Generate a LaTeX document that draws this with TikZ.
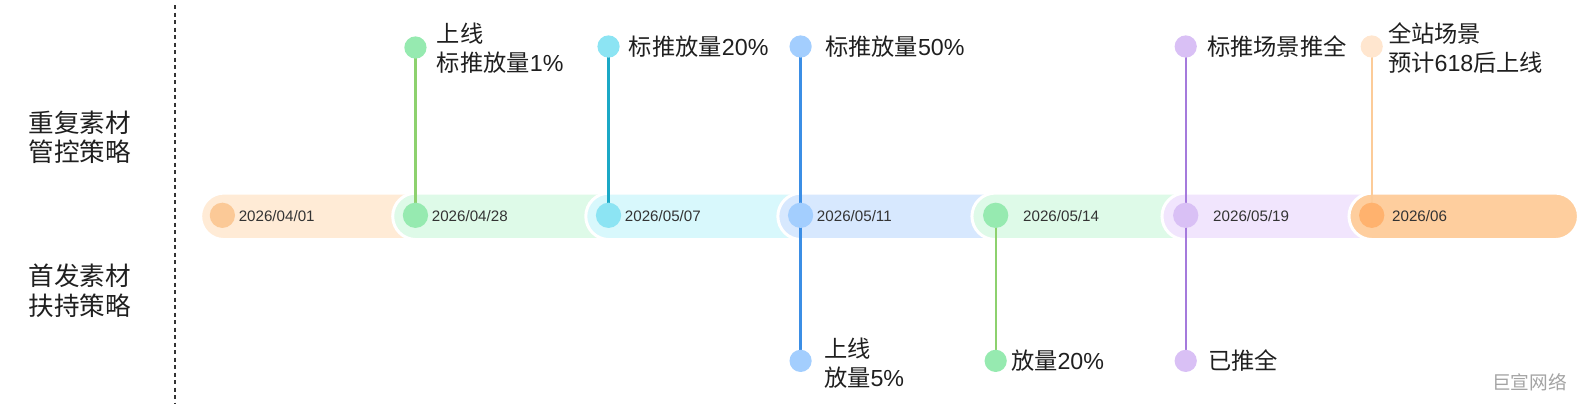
\documentclass[tikz,border=0pt]{standalone}
\usepackage{fontspec}
\setmainfont{Liberation Sans}
\newfontfamily\cjk{Noto Sans CJK SC}
\usetikzlibrary{shapes.misc}
\definecolor{segA}{HTML}{FFEBD6}
\definecolor{segB}{HTML}{DEFAE8}
\definecolor{segC}{HTML}{D8F8FC}
\definecolor{segD}{HTML}{D7E8FE}
\definecolor{segE}{HTML}{F1E5FD}
\definecolor{segF}{HTML}{FECE9E}
\definecolor{dotA}{HTML}{FBC997}
\definecolor{dotB}{HTML}{96EAB0}
\definecolor{dotC}{HTML}{8CE4F3}
\definecolor{dotD}{HTML}{A3CEFE}
\definecolor{dotE}{HTML}{D9C0F5}
\definecolor{dotF}{HTML}{FFB26E}
\definecolor{dotG}{HTML}{FFE6CF}
\definecolor{lnGreen}{HTML}{8DD16E}
\definecolor{lnCyan}{HTML}{1BA8C6}
\definecolor{lnBlue}{HTML}{3B8EE5}
\definecolor{lnPurple}{HTML}{A57ADC}
\definecolor{lnOrange}{HTML}{FCCB98}
\definecolor{ink}{HTML}{1F1F1F}
\definecolor{ink2}{HTML}{333333}
\definecolor{wmark}{HTML}{A3A3A3}
\pgfdeclarelayer{bg}
\pgfdeclarelayer{mid}
\pgfsetlayers{bg,mid,main}
\begin{document}
\begin{tikzpicture}[x=1pt,y=-1pt, scale=1.0108, every node/.append style={transform shape},
  seg/.style={rounded rectangle, rounded rectangle right arc=none, minimum height=46pt, inner sep=0pt, draw=white, line width=3pt, anchor=west},
  bardot/.style={circle, minimum size=25pt, inner sep=0pt},
  tipdot/.style={circle, minimum size=22pt, inner sep=0pt},
  stem/.style={line width=2.7pt},
  lbl/.style={anchor=west, inner sep=0pt, align=left, font=\fontsize{23}{29}\selectfont, text=ink},
  side/.style={anchor=west, inner sep=0pt, align=left, font=\fontsize{25.3}{29}\selectfont, text=ink},
  datetxt/.style={anchor=west, inner sep=0pt, font=\fontsize{15}{18}\selectfont, text=ink2},
  divider/.style={line width=1.5pt, draw=ink2, dash pattern=on 4pt off 3.5pt}]
\useasboundingbox (0,0) rectangle (1568,401.66);

% segments
\begin{pgfonlayer}{bg}
\node[seg, fill=segA, minimum width=204pt] (s1) at (197,214) {};
\node[seg, fill=segB, minimum width=205pt] (s2) at (387,214) {};
\node[seg, fill=segC, minimum width=204pt] (s3) at (578,214) {};
\node[seg, fill=segD, minimum width=206pt] (s4) at (768,214) {};
\node[seg, fill=segB, minimum width=202pt] (s5) at (960,214) {};
\node[seg, fill=segE, minimum width=199pt] (s6) at (1148,214) {};
\node[seg, fill=segF, minimum width=227pt, rounded rectangle right arc=convex] (s7) at (1333,214) {};
\end{pgfonlayer}

% bar dots
\node[bardot, fill=dotA] (d1) at (220,213) {};
\node[bardot, fill=dotB] (d2) at (411,213) {};
\node[bardot, fill=dotC] (d3) at (602,213) {};
\node[bardot, fill=dotD] (d4) at (792,213) {};
\node[bardot, fill=dotB] (d5) at (985,213) {};
\node[bardot, fill=dotE] (d6) at (1173,213) {};
\node[bardot, fill=dotF] (d7) at (1357,213) {};

% top and bottom dots
\node[tipdot, fill=dotB] (t1) at (411,47) {};
\node[tipdot, fill=dotC] (t2) at (602,46) {};
\node[tipdot, fill=dotD] (t3) at (792,46) {};
\node[tipdot, fill=dotE] (t4) at (1173,46) {};
\node[tipdot, fill=dotG] (t5) at (1357,46) {};
\node[tipdot, fill=dotD] (u1) at (792,357) {};
\node[tipdot, fill=dotB] (u2) at (985,357) {};
\node[tipdot, fill=dotE] (u3) at (1173,357) {};

% stems
\begin{pgfonlayer}{mid}
\draw[stem, lnGreen] (t1.center) -- (d2.center);
\draw[stem, lnCyan] (t2.center) -- (d3.center);
\draw[stem, lnBlue] (t3.center) -- (u1.center);
\draw[stem, lnGreen] (d5.center) -- (u2.center);
\draw[stem, lnPurple] (t4.center) -- (u3.center);
\draw[stem, lnOrange] (t5.center) -- (d7.center);
\end{pgfonlayer}

% dates
\node[datetxt] (a1) at (236,214) {2026/04/01};
\node[datetxt] (a2) at (427,214) {2026/04/28};
\node[datetxt] (a3) at (618,214) {2026/05/07};
\node[datetxt] (a4) at (808,214) {2026/05/11};
\node[datetxt] (a5) at (1012,214) {2026/05/14};
\node[datetxt] (a6) at (1200,214) {2026/05/19};
\node[datetxt] (a7) at (1377,214) {2026/06};

% top labels
\node[lbl] (l1) at (432,47.5) {{\cjk 上线}\\{\cjk 标推放量}1\%};
\node[lbl] (l2) at (622,46) {{\cjk 标推放量}20\%};
\node[lbl] (l3) at (816,46) {{\cjk 标推放量}50\%};
\node[lbl] (l4) at (1194,46) {{\cjk 标推场景推全}};
\node[lbl] (l5) at (1373,47.5) {{\cjk 全站场景}\\{\cjk 预计}618{\cjk 后上线}};

% bottom labels
\node[lbl] (m1) at (815,359.5) {{\cjk 上线}\\{\cjk 放量}5\%};
\node[lbl] (m2) at (1000,357) {{\cjk 放量}20\%};
\node[lbl] (m3) at (1195,357) {{\cjk 已推全}};

% side labels
\node[side] (g1) at (28,135.5) {{\cjk 重复素材}\\{\cjk 管控策略}};
\node[side] (g2) at (28,287.5) {{\cjk 首发素材}\\{\cjk 扶持策略}};

% divider
\coordinate (dvtop) at (173,5);
\coordinate (dvbot) at (173,400);
\draw[divider] (dvtop) -- (dvbot);

% watermark
\node[anchor=west, inner sep=0pt, text=wmark, font=\fontsize{18.5}{20}\selectfont] (wm) at (1476,378) {{\cjk 巨宣网络}};
\end{tikzpicture}
\end{document}
